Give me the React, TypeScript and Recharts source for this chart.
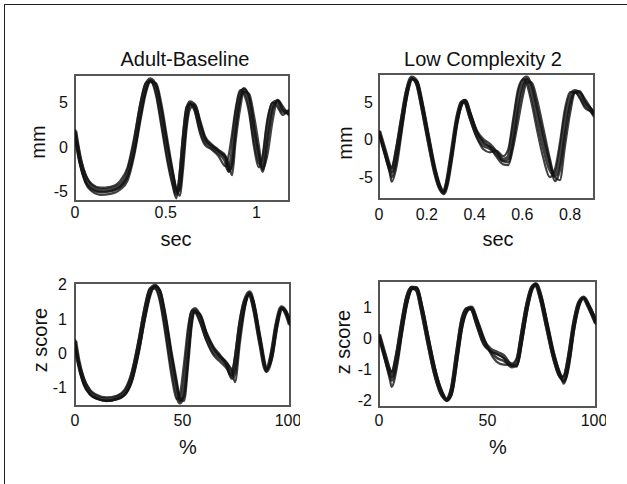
import React from "react";
import { Line, LineChart, ReferenceArea, XAxis, YAxis } from "recharts";

const FONT = '"Liberation Sans", Arial, Helvetica, sans-serif';
const INK = "#111";
const BOX = "#555";

// Adult-Baseline, mm over sec (4 overlaid trials)
const adultSec = [0, 0.028, 0.056, 0.093, 0.14, 0.195, 0.25, 0.29, 0.326, 0.363, 0.39, 0.415, 0.447, 0.475, 0.508, 0.54, 0.559, 0.577, 0.596, 0.615, 0.633, 0.66, 0.69, 0.717, 0.754, 0.79, 0.83, 0.847, 0.866, 0.885, 0.912, 0.93, 0.96, 0.987, 1.015, 1.034, 1.06, 1.09, 1.117, 1.145, 1.18];
const adultMmA = [1.8, -1.5, -3.4, -4.5, -4.9, -4.8, -4.3, -3.0, 0, 4.4, 6.8, 7.6, 6.6, 3.7, -0.4, -3.7, -5.2, -4.1, 0, 3.7, 5.0, 4.6, 2.2, 0.7, 0, -0.6, -1.5, -2.6, -1.1, 2.9, 5.9, 6.4, 5.1, 1.4, -1.5, -2.1, 1.8, 4.8, 5.1, 4.0, 3.9];
const adultMmB = [1.5, -2.0, -4.0, -5.0, -5.4, -5.3, -4.8, -3.8, -1.0, 3.2, 6.0, 7.3, 7.2, 5.0, 1.0, -2.8, -4.8, -5.5, -2.5, 2.0, 4.2, 4.8, 3.0, 1.2, 0.3, -0.3, -1.0, -2.0, -3.2, 0.5, 4.5, 6.2, 6.0, 3.5, 0.0, -2.6, -1.0, 3.0, 5.3, 4.6, 3.5];
const adultMmC = [2.0, -1.0, -3.0, -4.2, -4.6, -4.5, -3.8, -2.3, 1.0, 5.2, 7.2, 7.4, 5.8, 2.5, -1.5, -4.5, -5.8, -3.0, 1.5, 4.5, 4.8, 4.0, 1.5, 0.2, -0.3, -1.0, -2.2, -1.0, 1.5, 4.2, 6.4, 6.0, 3.8, 0.0, -2.3, -1.0, 3.0, 5.0, 4.5, 3.6, 4.2];
const adultMmD = [1.6, -1.8, -3.8, -4.8, -5.1, -5.0, -4.5, -3.3, -0.5, 3.8, 6.4, 7.5, 6.9, 4.3, 0.3, -3.2, -5.0, -4.8, -1.0, 3.0, 4.9, 4.4, 2.6, 0.9, 0.1, -0.5, -1.2, -2.8, -2.0, 1.8, 5.5, 6.6, 5.6, 2.2, -1.0, -2.8, 0.5, 4.2, 5.2, 4.2, 3.7];

// Low Complexity 2, mm over sec
const lowSec = [0, 0.025, 0.046, 0.053, 0.074, 0.095, 0.116, 0.137, 0.158, 0.179, 0.206, 0.234, 0.255, 0.27, 0.283, 0.304, 0.325, 0.346, 0.36, 0.38, 0.409, 0.437, 0.464, 0.492, 0.52, 0.541, 0.562, 0.583, 0.604, 0.618, 0.639, 0.66, 0.688, 0.715, 0.736, 0.757, 0.778, 0.8, 0.82, 0.84, 0.862, 0.89, 0.9];
const lowMmA = [1.1, -1.6, -3.8, -4.2, -1.6, 2.4, 6.2, 8.2, 7.6, 4.7, 0.2, -4.2, -6.4, -7.1, -6.0, -2.0, 2.4, 4.9, 5.1, 3.3, 0.7, -0.7, -1.1, -1.8, -2.7, -2.4, 1.1, 5.6, 7.8, 8.2, 6.4, 3.3, -0.7, -3.8, -4.7, -2.4, 2.4, 5.6, 6.4, 6.0, 4.7, 3.8, 3.3];
const lowMmB = [1.0, -2.0, -4.6, -5.6, -3.5, 1.0, 5.5, 8.0, 7.8, 5.2, 0.8, -3.8, -6.2, -7.0, -6.3, -2.6, 1.8, 4.5, 5.2, 3.8, 1.0, -0.3, -1.0, -2.3, -3.3, -3.4, -1.0, 2.5, 6.0, 7.6, 7.6, 5.5, 1.5, -2.5, -5.0, -5.4, -1.0, 3.5, 6.2, 6.3, 5.4, 4.0, 3.5];
const lowMmC = [1.2, -1.4, -3.5, -3.8, -0.8, 3.2, 6.8, 8.1, 7.2, 4.0, -0.4, -4.6, -6.6, -7.0, -5.5, -1.4, 2.9, 5.0, 4.8, 2.8, 0.3, -1.3, -1.7, -1.5, -2.2, -1.3, 2.8, 6.8, 8.0, 7.4, 4.8, 1.5, -2.5, -5.0, -4.0, -0.5, 4.0, 6.3, 6.3, 5.5, 4.2, 3.6, 3.0];
const lowMmD = [1.1, -1.8, -4.2, -5.0, -2.5, 1.8, 5.9, 8.1, 7.7, 5.0, 0.5, -4.0, -6.3, -7.1, -6.1, -2.3, 2.1, 4.7, 5.2, 3.6, 1.2, 0.0, -0.6, -1.6, -2.9, -3.0, -0.2, 4.0, 7.0, 8.0, 7.2, 4.5, 0.5, -3.0, -5.5, -4.0, 0.5, 4.6, 6.3, 6.4, 5.0, 3.9, 3.4];

// Adult-Baseline, z score over % of movement
const adultPct = [0, 1.5, 3.9, 7, 10, 14.7, 19.4, 23.3, 26.4, 29.5, 32.6, 34.9, 37.2, 39.5, 41.9, 45, 47.3, 48.8, 50.7, 52.7, 54.3, 55.8, 58.1, 61.2, 64.3, 67.4, 70.5, 72.9, 74.4, 76.7, 79.1, 81.1, 82.9, 86, 89.1, 91.5, 93.8, 96.1, 98.4, 100];
const adultZA = [0.36, -0.22, -0.8, -1.15, -1.29, -1.37, -1.31, -1.15, -0.71, 0.17, 1.23, 1.82, 1.96, 1.72, 0.94, -0.32, -1.1, -1.44, -1.0, 0.26, 1.14, 1.28, 1.04, 0.46, 0.07, -0.13, -0.32, -0.61, -0.32, 0.75, 1.52, 1.77, 1.43, 0.36, -0.51, -0.03, 0.84, 1.33, 1.14, 0.84];
const adultZB = [0.3, -0.3, -0.9, -1.22, -1.34, -1.4, -1.36, -1.22, -0.85, -0.05, 1.0, 1.65, 1.95, 1.85, 1.2, 0.0, -0.8, -1.3, -1.4, -0.3, 0.8, 1.2, 1.15, 0.6, 0.2, -0.05, -0.3, -0.5, -0.85, 0.3, 1.35, 1.75, 1.55, 0.5, -0.45, -0.2, 0.7, 1.3, 1.2, 0.9];
const adultZC = [0.4, -0.15, -0.7, -1.08, -1.22, -1.3, -1.25, -1.05, -0.55, 0.35, 1.4, 1.9, 1.88, 1.5, 0.6, -0.7, -1.35, -1.2, -0.3, 0.8, 1.25, 1.2, 0.9, 0.35, -0.05, -0.25, -0.45, -0.7, -0.1, 1.0, 1.6, 1.72, 1.3, 0.25, -0.55, 0.1, 0.95, 1.33, 1.1, 0.8];
const adultZD = [0.35, -0.25, -0.85, -1.2, -1.32, -1.4, -1.34, -1.2, -0.78, 0.05, 1.1, 1.75, 1.97, 1.8, 1.05, -0.15, -0.95, -1.4, -1.25, 0.0, 1.0, 1.25, 1.1, 0.55, 0.15, -0.1, -0.35, -0.75, -0.6, 0.55, 1.45, 1.76, 1.5, 0.42, -0.48, -0.1, 0.78, 1.32, 1.16, 0.86];

// Low Complexity 2, z score over %
const lowPct = [0, 2.8, 5.1, 5.8, 8.2, 10.5, 12.8, 15.1, 17.4, 19.7, 22.8, 25.8, 28.9, 31.2, 33.5, 35.8, 38.2, 40.5, 42.5, 45.1, 48.2, 51.2, 54.3, 57.4, 61.2, 63.5, 65.8, 68.2, 70.5, 72.3, 74.3, 77.4, 80.5, 83.5, 85.1, 87.4, 89.7, 92, 94.3, 96.6, 100];
const lowZA = [0.12, -0.57, -1.1, -1.2, -0.57, 0.4, 1.26, 1.63, 1.58, 0.94, -0.14, -1.1, -1.75, -1.97, -1.65, -0.57, 0.51, 0.94, 0.99, 0.51, -0.09, -0.35, -0.46, -0.57, -0.89, -0.78, 0.08, 1.04, 1.63, 1.74, 1.37, 0.4, -0.57, -1.2, -1.32, -0.68, 0.4, 1.1, 1.31, 1.04, 0.5];
const lowZB = [0.1, -0.7, -1.35, -1.55, -0.95, 0.1, 1.05, 1.58, 1.65, 1.1, 0.05, -0.95, -1.7, -2.0, -1.8, -0.85, 0.3, 0.85, 0.98, 0.65, 0.05, -0.45, -0.75, -0.84, -0.85, -0.9, -0.15, 0.85, 1.58, 1.76, 1.5, 0.55, -0.45, -1.15, -1.45, -0.95, 0.2, 1.0, 1.32, 1.1, 0.6];
const lowZC = [0.15, -0.5, -1.0, -1.08, -0.4, 0.6, 1.4, 1.65, 1.5, 0.8, -0.3, -1.25, -1.85, -1.95, -1.5, -0.35, 0.7, 0.98, 0.92, 0.4, -0.2, -0.4, -0.5, -0.62, -0.8, -0.62, 0.3, 1.2, 1.68, 1.7, 1.25, 0.25, -0.7, -1.25, -1.2, -0.45, 0.55, 1.18, 1.3, 0.98, 0.45];
const lowZD = [0.12, -0.62, -1.2, -1.35, -0.75, 0.25, 1.15, 1.6, 1.62, 1.02, -0.05, -1.02, -1.72, -1.98, -1.72, -0.7, 0.42, 0.9, 1.0, 0.58, -0.02, -0.4, -0.62, -0.72, -0.87, -0.85, -0.05, 0.95, 1.6, 1.75, 1.43, 0.48, -0.52, -1.18, -1.38, -0.8, 0.3, 1.05, 1.31, 1.07, 0.55];

const TRACE_KEYS = ["a", "b", "c", "d"];
const TRACE_WIDTHS = [4.5, 2.2, 2.2, 2.6];

function toRows(xs: number[], traces: number[][]) {
  return xs.map((x, i) => {
    const row: Record<string, number> = { x };
    traces.forEach((t, k) => {
      row[TRACE_KEYS[k]] = t[i];
    });
    return row;
  });
}

type PanelProps = {
  left: number;
  top: number;
  w: number;
  h: number;
  data: Record<string, number>[];
  xDomain: [number, number];
  xTicks: number[];
  yDomain: [number, number];
  yTicks: number[];
  xTickMargin: number;
  yTickMargin: number;
};

const tickStyle = { fill: INK, fontSize: 16, fontFamily: FONT };

function Panel({ left, top, w, h, data, xDomain, xTicks, yDomain, yTicks, xTickMargin, yTickMargin }: PanelProps) {
  return (
    <div style={{ position: "absolute", left: left - 60, top: top - 10 }}>
      <LineChart width={w + 70} height={h + 40} data={data} margin={{ top: 10, right: 10, left: 0, bottom: 0 }}>
        <XAxis
          type="number"
          dataKey="x"
          domain={xDomain}
          ticks={xTicks}
          allowDataOverflow
          height={30}
          tickLine={false}
          tickMargin={xTickMargin}
          axisLine={false}
          tick={tickStyle}
        />
        <YAxis
          type="number"
          domain={yDomain}
          ticks={yTicks}
          allowDataOverflow
          width={60}
          tickLine={false}
          tickMargin={yTickMargin}
          axisLine={false}
          tick={tickStyle}
        />
        {TRACE_KEYS.map((k, i) => (
          <Line
            key={k}
            type="monotone"
            dataKey={k}
            stroke={INK}
            strokeWidth={TRACE_WIDTHS[i]}
            strokeOpacity={0.8}
            dot={false}
            isAnimationActive={false}
          />
        ))}
        <ReferenceArea
          x1={xDomain[0]}
          x2={xDomain[1]}
          y1={yDomain[0]}
          y2={yDomain[1]}
          fill="none"
          fillOpacity={0}
          stroke={BOX}
          strokeWidth={2}
        />
      </LineChart>
    </div>
  );
}

function Text({ x, y, children, vertical }: { x: number; y: number; children: React.ReactNode; vertical?: boolean }) {
  return (
    <div
      style={{
        position: "absolute",
        left: x,
        top: y,
        transform: `translate(-50%, -50%)${vertical ? " rotate(-90deg)" : ""}`,
        fontFamily: FONT,
        fontSize: 20,
        lineHeight: 1,
        whiteSpace: "nowrap",
        color: INK,
      }}
    >
      {children}
    </div>
  );
}

export default function App() {
  return (
    <div
      style={{
        position: "absolute",
        left: 0,
        top: 0,
        width: 627,
        height: 484,
        background: "#fff",
        overflow: "hidden",
      }}
    >
      <div
        style={{
          position: "absolute",
          left: 4,
          top: 4,
          width: 640,
          height: 500,
          borderLeft: "1.5px solid #222",
          borderTop: "1.5px solid #222",
        }}
      />
      <Text x={185} y={59}>Adult-Baseline</Text>
      <Text x={483} y={59}>Low Complexity 2</Text>

      <Panel
        left={75}
        top={75}
        w={214}
        h={126}
        data={toRows(adultSec, [adultMmA, adultMmB, adultMmC, adultMmD])}
        xDomain={[0, 1.18]}
        xTicks={[0, 0.5, 1]}
        yDomain={[-6.1, 8.1]}
        yTicks={[-5, 0, 5]}
        xTickMargin={0}
        yTickMargin={1}
      />
      <Panel
        left={379}
        top={74}
        w={215}
        h={125}
        data={toRows(lowSec, [lowMmA, lowMmB, lowMmC, lowMmD])}
        xDomain={[0, 0.9]}
        xTicks={[0, 0.2, 0.4, 0.6, 0.8]}
        yDomain={[-7.9, 8.7]}
        yTicks={[-5, 0, 5]}
        xTickMargin={4}
        yTickMargin={0}
      />
      <Panel
        left={75}
        top={283}
        w={215}
        h={123}
        data={toRows(adultPct, [adultZA, adultZB, adultZC, adultZD])}
        xDomain={[0, 100]}
        xTicks={[0, 50, 100]}
        yDomain={[-1.55, 2.05]}
        yTicks={[-1, 0, 1, 2]}
        xTickMargin={3}
        yTickMargin={2}
      />
      <Panel
        left={379}
        top={281}
        w={217}
        h={126}
        data={toRows(lowPct, [lowZA, lowZB, lowZC, lowZD])}
        xDomain={[0, 100]}
        xTicks={[0, 50, 100]}
        yDomain={[-2.2, 1.85]}
        yTicks={[-2, -1, 0, 1]}
        xTickMargin={2}
        yTickMargin={1}
      />

      <Text x={38} y={142} vertical>mm</Text>
      <Text x={345} y={143} vertical>mm</Text>
      <Text x={40} y={340} vertical>z score</Text>
      <Text x={343} y={342} vertical>z score</Text>
      <Text x={176} y={239}>sec</Text>
      <Text x={498} y={239}>sec</Text>
      <Text x={188} y={447}>%</Text>
      <Text x={498} y={447}>%</Text>
    </div>
  );
}
